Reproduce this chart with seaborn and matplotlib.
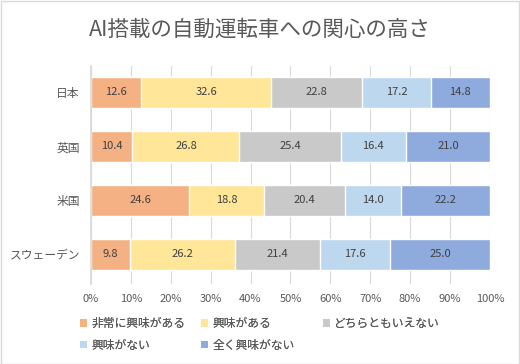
import matplotlib
matplotlib.use("Agg")
import matplotlib.pyplot as plt
import seaborn as sns
import numpy as np
import pandas as pd
from matplotlib.patches import Patch

countries = ["日本", "英国", "米国", "スウェーデン"]
series_names = ["非常に興味がある", "興味がある", "どちらともいえない", "興味がない", "全く興味がない"]
very = [12.6, 10.4, 24.6, 9.8]
some = [32.6, 26.8, 18.8, 26.2]
neutral = [22.8, 25.4, 20.4, 21.4]
notint = [17.2, 16.4, 14.0, 17.6]
none_ = [14.8, 21.0, 22.2, 25.0]
colors = ["#F4B183", "#FFE699", "#C9C9C9", "#BDD7EE", "#8FAADC"]
xticks = [0, 10, 20, 30, 40, 50, 60, 70, 80, 90, 100]

sns.set_theme(style="white")
plt.rcParams['font.family'] = ['Noto Sans CJK JP', 'DejaVu Sans']

vals = np.array([very, some, neutral, notint, none_])
cum = np.cumsum(vals, axis=0)

fig = plt.figure(figsize=(5.2, 3.64), dpi=100)
ax = fig.add_axes([0.175, 0.22, 0.767, 0.60])

for i in range(len(series_names) - 1, -1, -1):
    df = pd.DataFrame({"country": countries, "value": cum[i]})
    sns.barplot(data=df, x="value", y="country", orient="h", color=colors[i],
                width=0.58, saturation=1, ax=ax, zorder=3)

for i in range(len(series_names)):
    for j in range(len(countries)):
        start = cum[i][j] - vals[i][j]
        ax.text(start + vals[i][j] / 2, j, f"{vals[i][j]:.1f}", ha="center", va="center",
                fontsize=8, color="#404040", zorder=4)

ax.set_xlim(0, 100)
ax.set_ylim(3.55, -0.5)
ax.set_xticks(xticks)
ax.set_xticklabels([f"{t}%" for t in xticks], fontsize=8, color="#595959")
ax.tick_params(axis="y", labelsize=8.5, labelcolor="#595959", length=0, pad=8)
ax.tick_params(axis="x", length=0, pad=7)
ax.set_xlabel("")
ax.set_ylabel("")
ax.grid(axis="x", color="#D9D9D9", linewidth=0.8, zorder=0)
for s in ["top", "right", "bottom"]:
    ax.spines[s].set_visible(False)
ax.spines["left"].set_color("#D9D9D9")
ax.spines["left"].set_zorder(5)

fig.text(0.5, 0.918, "AI搭載の自動運転車への関心の高さ", ha="center", va="center",
         fontsize=15.5, color="#595959")

handles = [Patch(facecolor=c, edgecolor="none") for c in colors]
col_groups = [[0, 3], [1, 4], [2]]
col_x = [80, 201, 323]
for xs, grp in zip(col_x, col_groups):
    lg = fig.legend([handles[k] for k in grp], [series_names[k] for k in grp],
                    loc="upper left", bbox_to_anchor=(xs / 520, (364 - 317) / 364),
                    frameon=False, fontsize=8.5, labelcolor="#595959", handlelength=0.6,
                    handleheight=0.6, handletextpad=0.35, labelspacing=0.75,
                    borderpad=0, borderaxespad=0)
    fig.add_artist(lg)

fig.patches.append(plt.Rectangle((0.001, 0.001), 0.997, 0.997, transform=fig.transFigure,
                                 fill=False, edgecolor="#D9D9D9", linewidth=1))

fig.savefig("out.png", dpi=100)
